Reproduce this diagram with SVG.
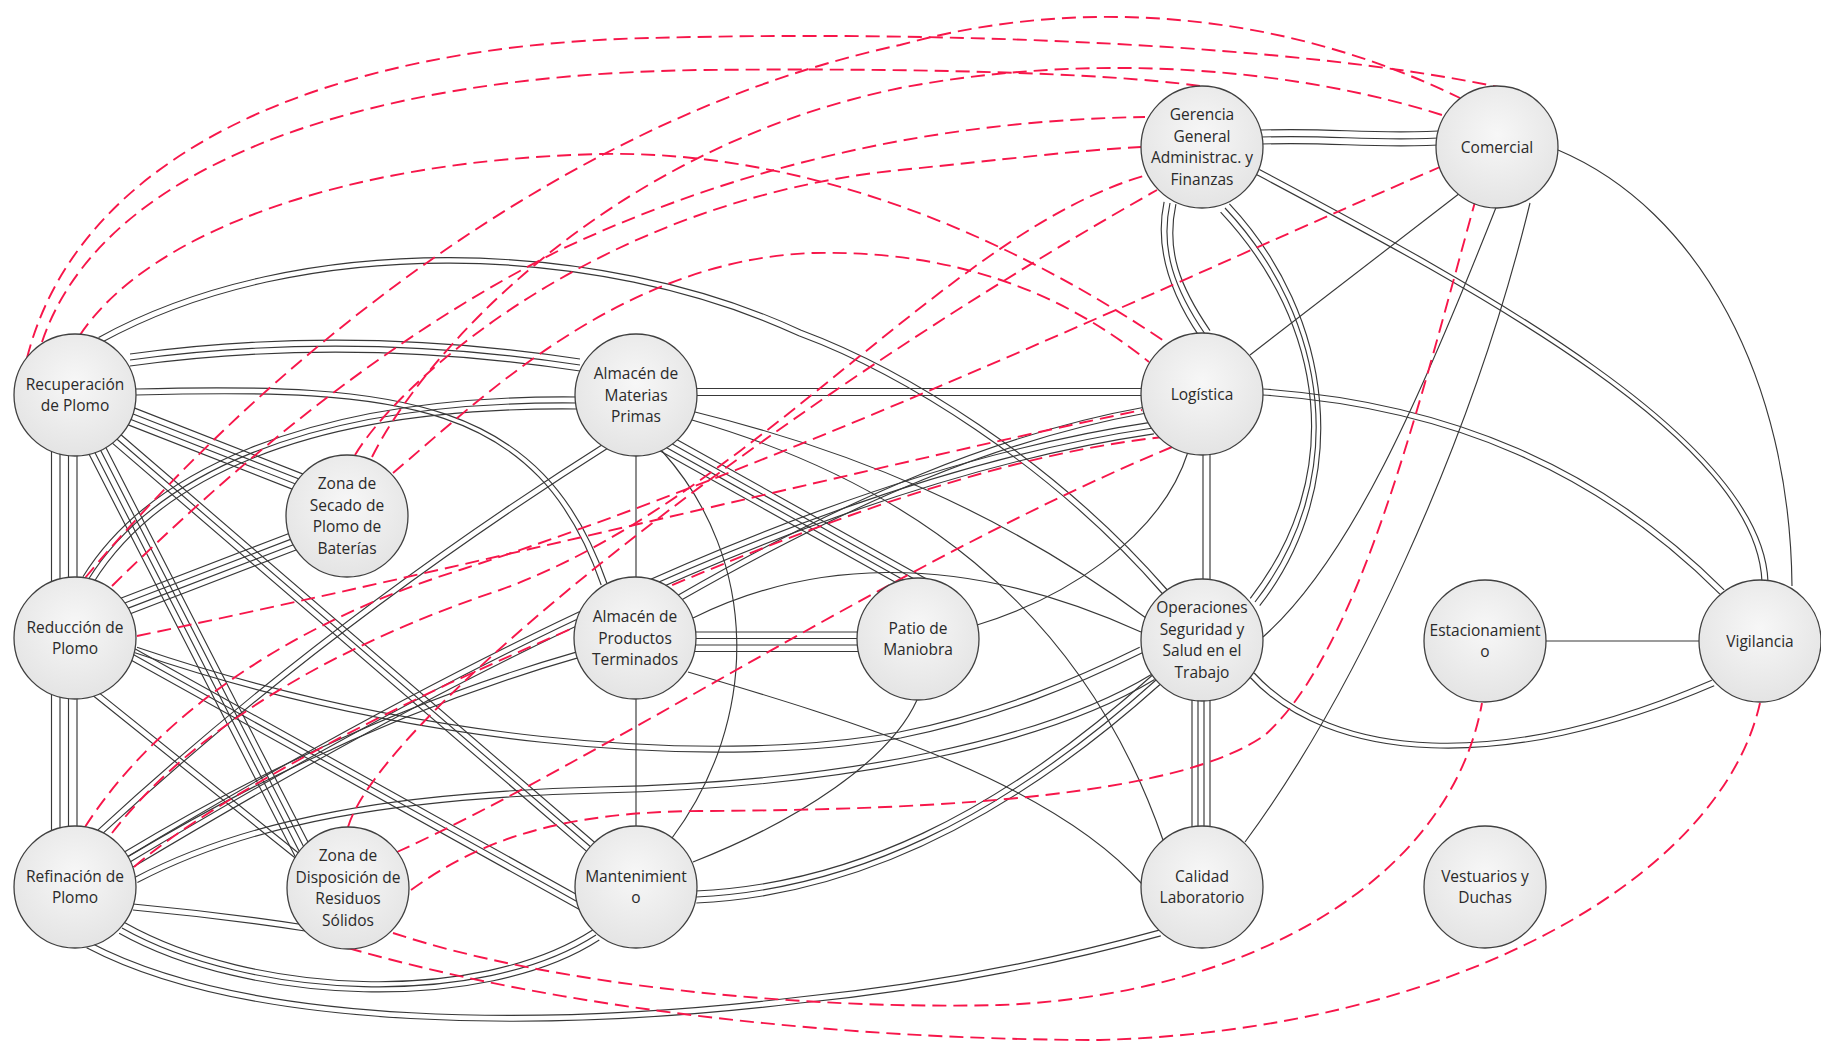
<svg xmlns="http://www.w3.org/2000/svg" width="1821" height="1046" viewBox="0 0 1821 1046">
<defs>
<radialGradient id="nf" cx="50%" cy="40%" r="60%">
<stop offset="0" stop-color="#f7f7f7"/>
<stop offset="1" stop-color="#e4e4e4"/>
</radialGradient>
<style>
.k{fill:none;stroke:#383838;stroke-width:1.15}
.x{fill:none;stroke:#f7164a;stroke-width:1.9;stroke-dasharray:14 7}
.n circle{fill:url(#nf);stroke:#404040;stroke-width:1.3}
.n text{font-family:"Open Sans","Noto Sans","Liberation Sans",sans-serif;font-size:15.5px;fill:#2a2a2a;text-anchor:middle}
</style>
</defs>
<rect width="1821" height="1046" fill="#ffffff"/>
<g id="connectors">
<g id="solid">
<path class="k" id="e-rec-red" d="M51.5,440V600M60,440V600M68.5,440V600M77,440V600"/>
<path class="k" id="e-red-ref" d="M51.5,680V850M60,680V850M68.5,680V850M77,680V850"/>
<path class="k" id="e-rec-amp" d="M130,354Q350,324 580,359M130,360Q350,330 580,365M130,366Q350,336 580,371"/>
<path class="k" id="e-rec-sec" d="M123.3,403.6L308.3,476.1M121.1,409.2L306.1,481.7M118.9,414.8L303.9,487.3M116.7,420.4L301.7,492.9"/>
<path class="k" id="e-rec-zd" d="M99.2,434.6L316.8,859.2M93.9,437.3L311.5,861.9M88.5,440.1L306.1,864.7M83.2,442.8L300.8,867.4"/>
<path class="k" id="e-rec-mant" d="M114.3,429L603.5,850M110.4,433.5L599.6,854.5M106.5,438.1L595.7,859.1"/>
<path class="k" id="e-rec-apt" d="M136.1,395C400.1,388 537.2,401 601.2,585M135.9,389C399.9,382 542.8,399 606.8,583"/>
<path class="k" id="e-rec-ops" d="M101.4,342.6C301.4,232.6 598.8,242.8 798.8,335.8C898.8,372.8 1047.7,462 1162.7,594M98.6,337.4C298.6,227.4 601.2,237.2 801.2,330.2C901.2,367.2 1052.3,458 1167.3,590"/>
<path class="k" id="e-red-sec" d="M115.5,600.2L298.1,530M117.6,605.8L300.2,535.6M119.8,611.4L302.4,541.2M121.9,617L304.5,546.8"/>
<path class="k" id="e-red-amp" d="M82.9,576.8C144.9,476.8 300.1,394 578.1,397M88,580C150,480 300,400 578,403M93.1,583.2C155.1,483.2 299.9,406 577.9,409"/>
<path class="k" id="e-red-mant" d="M129.9,645.9L587.9,900.7M127,651.1L585,905.9M124.1,656.3L582.1,911.1"/>
<path class="k" id="e-red-zd" d="M94.2,688.9L308.1,860.7M90.4,693.5L304.3,865.3"/>
<path class="k" id="e-red-ops" d="M135,652.8C399,742.8 700.5,773 900.6,738C1000.6,718 1081.3,682.7 1142.3,652.7M137,647.2C401,737.2 699.5,767 899.4,732C999.4,712 1078.7,677.3 1139.7,647.3"/>
<path class="k" id="e-ref-amp" d="M102,834.2Q331.8,622.4 613.6,444.5M98,829.8Q328.2,617.6 610.4,439.5"/>
<path class="k" id="e-ref-apt" d="M126.5,857.6Q351.2,722.7 577.8,657.9M123.5,852.4Q348.8,717.3 576.2,652.1"/>
<path class="k" id="e-ref-log" d="M126.9,856.9C396.9,694.9 799.1,474.1 1152.1,422.1M130,862C400,700 800,480 1153,428M133.1,867.1C403.1,705.1 800.9,485.9 1153.9,433.9"/>
<path class="k" id="e-ref-ops" d="M137.4,882.6C251.4,822.6 400.1,798 600.1,793C850.1,788 1051.6,742.6 1154.6,679.6M134.6,877.4C248.6,817.4 399.9,792 599.9,787C849.9,782 1048.4,737.4 1151.4,674.4"/>
<path class="k" id="e-ref-zd" d="M133,904Q220,912 305,925M133,910Q220,918 305,931"/>
<path class="k" id="e-ref-mant" d="M124.9,922.8C252.9,994.8 476.7,1005 592.7,930M122,928C250,1000 480,1010 596,935M119.1,933.2C247.1,1005.2 483.3,1015 599.3,940"/>
<path class="k" id="e-ref-cal" d="M86.6,947.7C248.6,1032.7 550.4,1033 800.3,1003C950.3,988 1080.8,957.9 1160.8,935.9M89.4,942.3C251.4,1027.3 549.6,1027 799.7,997C949.7,982 1079.2,952.1 1159.2,930.1"/>
<path class="k" id="e-mant-ops" d="M695.7,891C849.7,884 996,815.5 1152,675.5M696,897C850,890 1000,820 1156,680M696.3,903C850.3,896 1004,824.5 1160,684.5"/>
<path class="k" id="e-mant-pat" d="M693,862C800,820 890,760 917,700"/>
<path class="k" id="e-amp-pat" d="M665.4,433.2L926.6,578.9M662.5,438.5L923.7,584.2M659.5,443.7L920.7,589.4M656.6,449L917.8,594.7"/>
<path class="k" id="e-amp-log" d="M680,388.5H1160M680,395.5H1160"/>
<path class="k" id="e-amp-ops" d="M695,412C850,450 1000,510 1146,618"/>
<path class="k" id="e-amp-cal" d="M692,420C900,480 1080,600 1163,840"/>
<path class="k" id="e-amp-apt" d="M636,440V600"/>
<path class="k" id="e-amp-mant" d="M662,451C760,560 760,720 672,838"/>
<path class="k" id="e-apt-pat" d="M680,632H875M680,638.5H875M680,645H875M680,651.5H875"/>
<path class="k" id="e-apt-mant" d="M636,680V850"/>
<path class="k" id="e-apt-log" d="M680.5,600.6C851.5,502.6 1000.5,439 1146.5,413M677.5,595.4C848.5,497.4 999.5,433 1145.5,407"/>
<path class="k" id="e-apt-ops" d="M693,618C800,565 950,545 1141,632"/>
<path class="k" id="e-apt-cal" d="M688,672C850,720 1050,780 1142,884"/>
<path class="k" id="e-pat-log" d="M977,625C1060,600 1160,540 1188,452"/>
<path class="k" id="e-log-ops" d="M1203,440V600M1210,440V600"/>
<path class="k" id="e-ger-log" d="M1175.9,204.2C1165.9,251.2 1180,286.6 1210,330.6M1170,203C1160,250 1175,290 1205,334M1164.1,201.8C1154.1,248.8 1170,293.4 1200,337.4"/>
<path class="k" id="e-ger-ops" d="M1229.4,203.9C1334.4,315.9 1354.7,483.7 1259.7,605.7M1225,208C1330,320 1350,480 1255,602M1220.6,212.1C1325.6,324.1 1345.3,476.3 1250.3,598.3"/>
<path class="k" id="e-ger-com" d="M1250,130.5C1330,126.5 1370,135.5 1450,130.5M1250,137.5C1330,133.5 1370,142.5 1450,137.5M1250,144.5C1330,140.5 1370,149.5 1450,144.5"/>
<path class="k" id="e-ger-vig" d="M1256.6,174.6C1478.6,292.6 1757,440.1 1762,582.1M1259.4,169.4C1481.4,287.4 1763,439.9 1768,581.9"/>
<path class="k" id="e-log-vig" d="M1262.8,395C1449.8,408 1597.9,472.1 1719.9,594.1M1263.2,389C1450.2,402 1602.1,467.9 1724.1,589.9"/>
<path class="k" id="e-com-log" d="M1460,193L1250,355"/>
<path class="k" id="e-com-cal" d="M1530,203C1470,450 1350,700 1245,842"/>
<path class="k" id="e-com-ops" d="M1497,205C1420,400 1350,560 1263,637"/>
<path class="k" id="e-com-vig" d="M1558,150C1700,210 1790,380 1792,586"/>
<path class="k" id="e-ops-vig" d="M1249.8,677C1327.8,762 1501.2,777.8 1714.2,685.8M1254.2,673C1332.2,758 1498.8,772.2 1711.8,680.2"/>
<path class="k" id="e-est-vig" d="M1540,641H1705"/>
<path class="k" id="e-ops-cal" d="M1192,690V840M1198,690V840M1204,690V840M1210,690V840"/>
</g>
<g id="dashed">
<path class="x" id="x-rec-com" d="M27,358C80,150 330,45 650,38C950,30 1300,45 1498,87"/>
<path class="x" id="x-rec-ger" d="M42,342C100,170 350,75 700,70C900,68 1100,72 1200,86"/>
<path class="x" id="x-rec-log" d="M80,335C150,230 350,160 600,154C800,150 1000,230 1167,343"/>
<path class="x" id="x-red-com" d="M85,578C250,380 550,120 900,45C1100,-10 1300,20 1460,98"/>
<path class="x" id="x-red-ger" d="M112,586C250,450 400,330 560,250C750,160 950,120 1145,117"/>
<path class="x" id="x-red-log" d="M137,636C500,560 900,460 1142,410"/>
<path class="x" id="x-sec-com" d="M372,457C420,360 600,150 900,88C1100,50 1300,70 1442,115"/>
<path class="x" id="x-sec-log" d="M393,473C480,400 620,260 813,253C950,250 1060,290 1149,362"/>
<path class="x" id="x-sec-ger" d="M355,455C400,380 600,200 900,170C1000,160 1080,150 1141,147"/>
<path class="x" id="x-ref-com" d="M85,827C160,710 300,620 460,570C800,460 1200,270 1440,167"/>
<path class="x" id="x-ref-ger" d="M112,833C200,720 350,640 500,590C750,500 950,230 1147,175"/>
<path class="x" id="x-ref-log" d="M134,867C200,810 330,740 450,683C700,570 950,460 1163,437"/>
<path class="x" id="x-zd-ger" d="M348,827C380,720 750,420 1157,190"/>
<path class="x" id="x-zd-log" d="M397,852C600,760 900,560 1172,447"/>
<path class="x" id="x-zd-com" d="M411,890C480,840 560,812 700,811C950,810 1180,795 1265,735C1360,650 1420,400 1475,202"/>
<path class="x" id="x-zd-est" d="M393,933C550,985 800,1010 1000,1005C1250,995 1450,880 1482,703"/>
<path class="x" id="x-zd-vig" d="M348,948C600,1020 900,1040 1100,1040C1450,1030 1720,880 1760,703"/>
</g>
</g>
<g id="nodes">
<g class="n" id="n-recuperacion"><circle cx="75" cy="395" r="61"/><text x="75" y="389.75">Recuperación</text><text x="75" y="411.25">de Plomo</text></g>
<g class="n" id="n-almacen-mp"><circle cx="636" cy="395" r="61"/><text x="636" y="379">Almacén de</text><text x="636" y="400.5">Materias</text><text x="636" y="422">Primas</text></g>
<g class="n" id="n-secado"><circle cx="347" cy="516" r="61"/><text x="347" y="489.25">Zona de</text><text x="347" y="510.75">Secado de</text><text x="347" y="532.25">Plomo de</text><text x="347" y="553.75">Baterías</text></g>
<g class="n" id="n-reduccion"><circle cx="75" cy="638" r="61"/><text x="75" y="632.75">Reducción de</text><text x="75" y="654.25">Plomo</text></g>
<g class="n" id="n-almacen-pt"><circle cx="635" cy="638" r="61"/><text x="635" y="622">Almacén de</text><text x="635" y="643.5">Productos</text><text x="635" y="665">Terminados</text></g>
<g class="n" id="n-patio"><circle cx="918" cy="639" r="61"/><text x="918" y="633.75">Patio de</text><text x="918" y="655.25">Maniobra</text></g>
<g class="n" id="n-refinacion"><circle cx="75" cy="887" r="61"/><text x="75" y="881.75">Refinación de</text><text x="75" y="903.25">Plomo</text></g>
<g class="n" id="n-disposicion"><circle cx="348" cy="888" r="61"/><text x="348" y="861.25">Zona de</text><text x="348" y="882.75">Disposición de</text><text x="348" y="904.25">Residuos</text><text x="348" y="925.75">Sólidos</text></g>
<g class="n" id="n-mantenimiento"><circle cx="636" cy="887" r="61"/><text x="636" y="881.75">Mantenimient</text><text x="636" y="903.25">o</text></g>
<g class="n" id="n-gerencia"><circle cx="1202" cy="147" r="61"/><text x="1202" y="120.25">Gerencia</text><text x="1202" y="141.75">General</text><text x="1202" y="163.25">Administrac. y</text><text x="1202" y="184.75">Finanzas</text></g>
<g class="n" id="n-comercial"><circle cx="1497" cy="147" r="61"/><text x="1497" y="152.5">Comercial</text></g>
<g class="n" id="n-logistica"><circle cx="1202" cy="394" r="61"/><text x="1202" y="399.5">Logística</text></g>
<g class="n" id="n-operaciones"><circle cx="1202" cy="640" r="61"/><text x="1202" y="613.25">Operaciones</text><text x="1202" y="634.75">Seguridad y</text><text x="1202" y="656.25">Salud en el</text><text x="1202" y="677.75">Trabajo</text></g>
<g class="n" id="n-calidad"><circle cx="1202" cy="887" r="61"/><text x="1202" y="881.75">Calidad</text><text x="1202" y="903.25">Laboratorio</text></g>
<g class="n" id="n-estacionamiento"><circle cx="1485" cy="641" r="61"/><text x="1485" y="635.75">Estacionamient</text><text x="1485" y="657.25">o</text></g>
<g class="n" id="n-vigilancia"><circle cx="1760" cy="641" r="61"/><text x="1760" y="646.5">Vigilancia</text></g>
<g class="n" id="n-vestuarios"><circle cx="1485" cy="887" r="61"/><text x="1485" y="881.75">Vestuarios y</text><text x="1485" y="903.25">Duchas</text></g>
</g>
</svg>
